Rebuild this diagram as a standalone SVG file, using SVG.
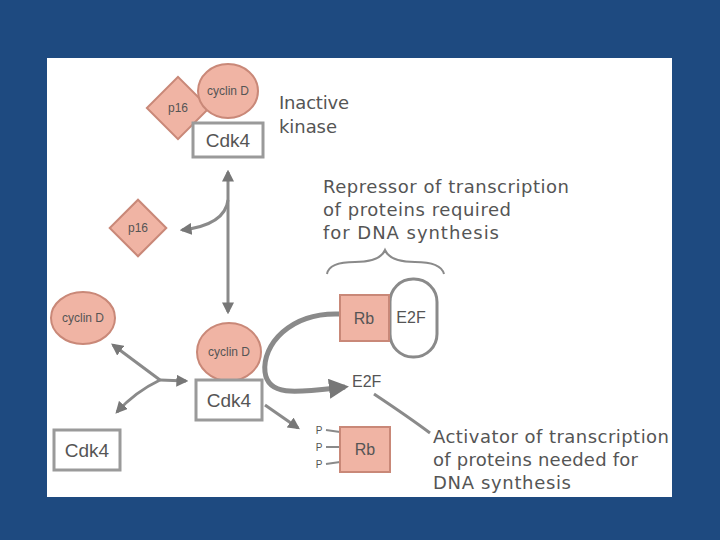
<svg xmlns="http://www.w3.org/2000/svg" width="720" height="540" viewBox="0 0 720 540">
<style>
text{font-family:"Liberation Sans",Arial,sans-serif;fill:#555;}
.lbl{font-family:"DejaVu Sans","Liberation Sans",sans-serif;font-size:18px;}
.cdk{font-size:19px;}
.rb{font-size:16px;}
.sm{font-size:12px;}
.pp{font-size:10px;}
.pink{fill:#f0b4a4;stroke:#c98878;stroke-width:2;}
.box{fill:#fff;stroke:#9a9a9a;stroke-width:3;}
.ln{fill:none;stroke:#8a8a8a;stroke-width:3;}
.thk{fill:none;stroke:#8a8a8a;stroke-width:5;}
</style>
<defs>
<marker id="ah" viewBox="0 0 10 10" refX="8" refY="5" markerWidth="4" markerHeight="4" orient="auto-start-reverse">
<path d="M0,0 L10,5 L0,10 z" fill="#777"/>
</marker>
</defs>
<rect width="720" height="540" fill="#1e4a80"/>
<rect x="47" y="58" width="625" height="439" fill="#fff"/>

<g id="connectors">
<path class="ln" d="M228,172 L228,312" marker-start="url(#ah)" marker-end="url(#ah)"/>
<path class="ln" d="M228,200 Q225,225 182,230" marker-end="url(#ah)"/>
<path class="ln" d="M160,380 Q140,365 113,345" marker-end="url(#ah)"/>
<path class="ln" d="M160,380 Q135,392 117,412" marker-end="url(#ah)"/>
<path class="ln" d="M160,380 L186,381" marker-end="url(#ah)"/>
<path class="thk" d="M340,314 C290,312 262,345 265,372 C268,398 300,392 345,387" marker-end="url(#ah)"/>
<path class="ln" d="M265,405 L298,428" marker-end="url(#ah)"/>
<path class="ln" d="M374,394 Q410,418 430,433"/>
<path class="ln" d="M326,430 L340,432 M326,447 L340,447 M326,464 L340,462" style="stroke-width:2"/>
<path class="ln" d="M327,274 Q329,262 355,262 Q380,262 385,250 Q390,262 415,262 Q441,262 444,274" style="stroke-width:2"/>
</g>

<g id="top-complex">
<rect class="pink" x="156" y="86" width="44" height="44" transform="rotate(45 178 108)"/>
<text class="sm" x="178" y="112" text-anchor="middle">p16</text>
<ellipse class="pink" cx="228" cy="91" rx="30" ry="27"/>
<text class="sm" x="228" y="95" text-anchor="middle">cyclin D</text>
<rect class="box" x="193" y="123" width="70" height="34"/>
<text class="cdk" x="228" y="147" text-anchor="middle">Cdk4</text>
</g>
<g id="inactive-label">
<text class="lbl" x="279" y="109" textLength="70" lengthAdjust="spacing">Inactive</text>
<text class="lbl" x="279" y="133" textLength="58" lengthAdjust="spacing">kinase</text>
</g>

<g id="p16">
<rect class="pink" x="118" y="208" width="40" height="40" transform="rotate(45 138 228)"/>
<text class="sm" x="138" y="232" text-anchor="middle">p16</text>
</g>

<g id="cyclinD-free">
<ellipse class="pink" cx="83" cy="318" rx="32" ry="26"/>
<text class="sm" x="83" y="322" text-anchor="middle">cyclin D</text>
</g>

<g id="cdk4-free">
<rect class="box" x="54" y="430" width="66" height="40"/>
<text class="cdk" x="87" y="457" text-anchor="middle">Cdk4</text>
</g>

<g id="active-complex">
<ellipse class="pink" cx="229" cy="352" rx="32" ry="29"/>
<text class="sm" x="229" y="356" text-anchor="middle">cyclin D</text>
<rect class="box" x="196" y="380" width="66" height="40"/>
<text class="cdk" x="229" y="407" text-anchor="middle">Cdk4</text>
</g>

<g id="rb-e2f">
<rect x="390" y="279" width="47" height="78" rx="23" fill="#fff" stroke="#8a8a8a" stroke-width="3"/>
<text class="rb" x="411" y="323" text-anchor="middle">E2F</text>
<rect class="pink" x="340" y="295" width="49" height="46"/>
<text class="rb" x="364" y="324" text-anchor="middle">Rb</text>
</g>

<g id="repressor-label">
<text class="lbl" x="323" y="193" textLength="246" lengthAdjust="spacing">Repressor of transcription</text>
<text class="lbl" x="323" y="216" textLength="188" lengthAdjust="spacing">of proteins required</text>
<text class="lbl" x="323" y="239" textLength="176" lengthAdjust="spacing">for DNA synthesis</text>
</g>

<g id="e2f-free">
<text class="rb" x="352" y="387">E2F</text>
</g>

<g id="rb-p">
<rect class="pink" x="340" y="427" width="50" height="45"/>
<text class="rb" x="365" y="455" text-anchor="middle">Rb</text>
<text class="pp" x="319" y="434" text-anchor="middle">P</text>
<text class="pp" x="319" y="451" text-anchor="middle">P</text>
<text class="pp" x="319" y="468" text-anchor="middle">P</text>
</g>

<g id="activator-label">
<text class="lbl" x="433" y="443" textLength="236" lengthAdjust="spacing">Activator of transcription</text>
<text class="lbl" x="433" y="466" textLength="205" lengthAdjust="spacing">of proteins needed for</text>
<text class="lbl" x="433" y="489" textLength="138" lengthAdjust="spacing">DNA synthesis</text>
</g>
</svg>
